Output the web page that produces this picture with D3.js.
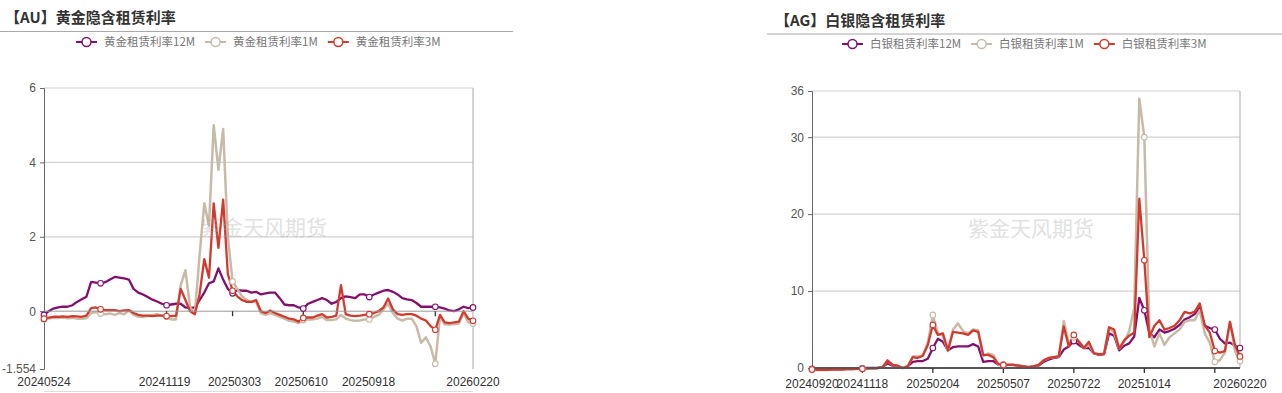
<!DOCTYPE html>
<html><head><meta charset="utf-8">
<script src="https://cdn.jsdelivr.net/npm/d3@7"></script>
<style>
body{margin:0;background:#fff;}
svg{display:block;font-family:"Noto Sans CJK SC","Liberation Sans",sans-serif;}
</style>
</head><body>
<svg id="c" width="1282" height="393"></svg>
<script>
// ---------------- AU (gold) ----------------
const auDates = [
"20240524","20240531","20240607","20240614","20240621","20240628","20240705","20240712","20240719","20240726",
"20240802","20240809","20240816","20240823","20240830","20240906","20240913","20240920","20240927","20241004",
"20241011","20241018","20241025","20241101","20241108","20241115","20241122","20241129","20241206","20241213",
"20241220","20241227","20250103","20250110","20250117","20250124","20250131","20250207","20250214","20250221",
"20250228","20250307","20250314","20250321","20250328","20250404","20250411","20250418","20250425","20250502",
"20250509","20250516","20250523","20250530","20250606","20250613","20250620","20250627","20250704","20250711",
"20250718","20250725","20250801","20250808","20250815","20250822","20250829","20250905","20250912","20250919",
"20250926","20251003","20251010","20251017","20251024","20251031","20251107","20251114","20251121","20251128",
"20251205","20251212","20251219","20251226","20260102","20260109","20260116","20260123","20260130","20260206",
"20260213","20260220"];
const au12M = [
-0.1,0.0,0.07,0.1,0.12,0.12,0.16,0.25,0.32,0.39,
0.79,0.77,0.75,0.78,0.85,0.92,0.9,0.88,0.85,0.6,
0.5,0.45,0.38,0.31,0.26,0.2,0.16,0.18,0.2,0.2,
0.1,0.08,0.1,0.3,0.5,0.75,0.8,1.15,0.85,0.6,
0.48,0.57,0.55,0.55,0.5,0.52,0.45,0.48,0.5,0.5,
0.35,0.18,0.16,0.16,0.1,0.07,0.2,0.25,0.3,0.35,
0.3,0.2,0.25,0.35,0.4,0.38,0.35,0.45,0.45,0.38,
0.45,0.5,0.55,0.57,0.52,0.45,0.35,0.32,0.3,0.22,
0.12,0.12,0.12,0.12,0.1,0.07,0.02,0.0,0.05,0.12,
0.08,0.1];
const au1M = [
-0.22,-0.2,-0.18,-0.18,-0.17,-0.19,-0.18,-0.2,-0.2,-0.19,
-0.05,-0.02,-0.06,-0.08,-0.06,-0.1,-0.05,-0.08,0.02,-0.1,
-0.15,-0.15,-0.13,-0.1,-0.08,-0.12,-0.15,-0.22,-0.22,0.7,
1.1,0.1,-0.05,1.5,2.9,2.3,5.0,3.8,4.9,2.0,
0.8,0.6,0.4,0.3,0.25,0.25,-0.05,-0.1,-0.05,-0.1,
-0.15,-0.2,-0.26,-0.28,-0.32,-0.24,-0.22,-0.22,-0.2,-0.15,
-0.24,-0.24,-0.22,-0.1,-0.2,-0.24,-0.26,-0.25,-0.22,-0.22,
-0.15,-0.1,0.05,0.2,-0.05,-0.2,-0.25,-0.2,-0.2,-0.4,
-0.85,-0.7,-0.95,-1.41,-0.15,-0.35,-0.36,-0.35,-0.33,-0.05,
-0.3,-0.33];
const au3M = [
-0.2,-0.17,-0.15,-0.15,-0.14,-0.15,-0.13,-0.14,-0.15,-0.12,
0.08,0.1,0.05,0.03,0.03,0.03,0.0,0.02,0.03,-0.05,
-0.1,-0.12,-0.12,-0.13,-0.12,-0.12,-0.13,-0.13,-0.12,0.6,
0.3,0.0,-0.08,0.45,1.4,0.9,2.9,1.7,3.0,1.0,
0.55,0.4,0.3,0.25,0.25,0.3,0.0,-0.05,0.02,-0.05,
-0.1,-0.15,-0.2,-0.22,-0.28,-0.18,-0.17,-0.17,-0.12,-0.08,
-0.17,-0.15,-0.12,0.7,-0.08,-0.12,-0.13,-0.12,-0.1,-0.08,
-0.05,0.0,0.1,0.34,0.05,-0.08,-0.1,-0.08,-0.08,-0.12,
-0.2,-0.25,-0.4,-0.5,-0.1,-0.3,-0.32,-0.3,-0.28,0.0,
-0.2,-0.26];
const auTickLabels = ["20240524","20241119","20250303","20250610","20250918","20260220"];
const auTickOnly = ["20240813","20251226"];
const auYTicks = [-1.554, 0, 2, 4, 6];

// ---------------- AG (silver) ----------------
const agDates = [
"20240920","20240926","20241002","20241008","20241014","20241018","20241024","20241030","20241105","20241111","20241118",
"20241122","20241128","20241204","20241210","20241216","20241220","20241226","20241231","20250106","20250110","20250116","20250122","20250128","20250204",
"20250210","20250217","20250224","20250303","20250310","20250314","20250320","20250327","20250403","20250410","20250416","20250423","20250430","20250507",
"20250513","20250519","20250523","20250529","20250604","20250610","20250616","20250620","20250626","20250702","20250708","20250711","20250717","20250722",
"20250728","20250801","20250807","20250813","20250819","20250825","20250829","20250904","20250910","20250916","20250922","20250926","20251009","20251014",
"20251020","20251024","20251030","20251105","20251111","20251117","20251121","20251127","20251203","20251209","20251215","20251219","20251226","20260105",
"20260114","20260123","20260202","20260211","20260220"];
const ag12M = [
-0.1,-0.15,-0.15,-0.15,-0.12,-0.12,-0.1,-0.1,-0.08,-0.05,
-0.05,0.0,0.0,0.0,0.1,0.6,0.3,0.2,0.0,0.2,
0.8,0.9,0.9,1.2,2.6,3.8,3.4,2.3,2.7,2.8,
2.8,2.8,3.1,2.8,0.8,0.9,0.9,0.4,0.4,0.4,
0.4,0.3,0.2,0.1,0.2,0.3,0.8,1.1,1.3,1.4,
2.4,2.8,3.5,3.0,2.6,2.6,1.9,1.7,1.8,4.5,
4.2,2.3,2.9,3.2,4.1,9.1,7.5,4.5,4.0,5.0,
4.6,4.8,5.1,5.6,6.3,6.6,7.0,7.8,5.5,5.2,
5.0,3.8,3.2,3.3,2.9,2.6];
const ag1M = [
-0.2,-0.25,-0.25,-0.25,-0.2,-0.2,-0.2,-0.15,-0.15,-0.1,
-0.1,-0.05,-0.05,0.0,0.1,0.9,0.4,0.3,0.0,0.2,
1.5,1.5,1.6,3.3,6.9,4.5,4.2,2.2,5.0,5.8,
4.8,4.5,5.0,4.9,1.5,1.9,1.7,0.4,0.4,0.4,
0.4,0.3,0.2,0.1,0.2,0.4,1.0,1.3,1.4,1.5,
6.1,3.2,4.0,3.5,2.6,3.0,1.9,1.8,1.9,5.2,
4.6,2.5,3.4,4.8,7.8,35,30,5.0,2.8,4.5,
3.0,4.0,4.5,5.0,6.0,6.2,6.2,7.5,4.5,3.3,
0.8,1.0,2.0,6.0,2.2,0.9];
const ag3M = [
-0.2,-0.25,-0.25,-0.25,-0.2,-0.2,-0.2,-0.15,-0.15,-0.1,
-0.1,-0.05,-0.05,0.0,0.1,1.0,0.4,0.3,0.0,0.2,
1.4,1.3,1.6,3.0,5.6,4.3,4.5,2.3,4.7,4.6,
4.5,4.3,4.9,4.7,1.7,1.7,1.4,0.5,0.4,0.4,
0.4,0.3,0.2,0.1,0.2,0.4,1.0,1.3,1.4,1.5,
5.4,2.8,4.3,3.4,2.6,3.4,1.9,1.8,1.8,5.3,
5.0,2.5,3.6,4.2,4.6,22,14,4.0,5.5,6.2,
5.0,5.2,5.5,6.2,7.3,7.1,7.3,8.4,5.5,4.6,
2.2,2.0,2.2,6.0,3.0,1.5];
const agTickLabels = ["20240920","20241118","20250204","20250507","20250722","20251014","20260220"];
const agTickOnly = ["20260105"];
const agYTicks = [0, 10, 20, 30, 36];

const COLORS = ["#84106D", "#C9BAA7", "#D33A2E"];
const svg = d3.select("#c");
const parse = d3.timeParse("%Y%m%d");

function panel(cfg) {
  const g = svg.append("g");
  const {x, y, xPos} = cfg;
  const [x0, x1] = cfg.xr, [yb, yt] = y.range();

  g.append("text").attr("x", cfg.titleX).attr("y", cfg.titleY)
    .attr("font-size", 15).attr("font-weight", "bold").attr("fill", "#333").text(cfg.title);
  g.append("line").attr("x1", cfg.sep[0]).attr("x2", cfg.sep[1]).attr("y1", cfg.sepY).attr("y2", cfg.sepY)
    .attr("stroke", "#aaa").attr("stroke-width", 1);

  let lx = cfg.legendX;
  cfg.names.forEach((n, k) => {
    const it = g.append("g");
    it.append("line").attr("x1", lx).attr("x2", lx + 21).attr("y1", cfg.legendY).attr("y2", cfg.legendY)
      .attr("stroke", COLORS[k]).attr("stroke-width", 2);
    it.append("circle").attr("cx", lx + 10.5).attr("cy", cfg.legendY).attr("r", 4.5)
      .attr("fill", "#fff").attr("stroke", COLORS[k]).attr("stroke-width", 1.5);
    const t = it.append("text").attr("x", lx + 28).attr("y", cfg.legendY).attr("dy", "0.35em")
      .attr("font-size", 11.5).attr("fill", "#777").text(n);
    lx += 28 + t.node().getComputedTextLength() + 10;
  });

  cfg.yTicks.filter(v => v > 0).forEach(v => {
    g.append("line").attr("x1", x0).attr("x2", x1).attr("y1", y(v)).attr("y2", y(v))
      .attr("stroke", "#d2d2d2").attr("stroke-width", 1.2);
  });
  g.append("line").attr("x1", x1).attr("x2", x1).attr("y1", yt).attr("y2", yb)
    .attr("stroke", "#aaa").attr("stroke-width", 1);

  const ya = g.append("g").attr("transform", `translate(${x0},0)`)
    .call(d3.axisLeft(y).tickValues(cfg.yTicks).tickSize(4).tickPadding(4)
      .tickFormat(v => String(v)));
  ya.select(".domain").attr("stroke", "#666");
  ya.selectAll(".tick line").attr("stroke", "#666");
  ya.selectAll("text").attr("font-size", 12).attr("fill", "#555")
    .attr("font-family", "'Liberation Sans',sans-serif");

  const line = d3.line().x((d, i) => xPos(i)).y(d => y(d));
  cfg.series.forEach((s, k) => {
    g.append("path").datum(s).attr("d", line).attr("fill", "none")
      .attr("stroke", COLORS[k]).attr("stroke-width", k === 1 ? 2.5 : 2.3)
      .attr("stroke-linejoin", "round");
  });

  const y0 = y(0);
  g.append("line").attr("x1", x0).attr("x2", x1).attr("y1", y0).attr("y2", y0)
    .attr("stroke", cfg.zeroColor).attr("stroke-width", cfg.zeroWidth);
  cfg.tickIdx.forEach(i => {
    g.append("line").attr("x1", xPos(i)).attr("x2", xPos(i)).attr("y1", y0).attr("y2", y0 + 5)
      .attr("stroke", "#333").attr("stroke-width", 1.3);
  });

  cfg.markerIdx.forEach(i => {
    cfg.series.forEach((s, k) => {
      g.append("circle").attr("cx", xPos(i)).attr("cy", y(s[i])).attr("r", 2.8)
        .attr("fill", "#fff").attr("stroke", COLORS[k]).attr("stroke-width", 1.1);
    });
  });

  cfg.labels.forEach(l => {
    g.append("text").attr("x", x(l.v)).attr("y", cfg.labelY).attr("text-anchor", "middle")
      .attr("font-size", 12).attr("fill", "#333")
      .attr("font-family", "'Liberation Sans',sans-serif").text(l.t);
  });

  g.append("text").attr("x", cfg.wmX).attr("y", cfg.wmY).attr("text-anchor", "middle")
    .attr("font-size", 21).attr("fill", "#aaa").attr("opacity", 0.35).text("紫金天风期货");

  if (cfg.bottomLine) {
    g.append("line").attr("x1", x0).attr("x2", x1).attr("y1", 391.5).attr("y2", 391.5)
      .attr("stroke", "#ddd").attr("stroke-width", 1);
  }
}

{
  const d = auDates.map(parse);
  const x = d3.scaleTime().domain([d[0], d[d.length - 1]]).range([44, 473]);
  const y = d3.scaleLinear().domain([-1.554, 6]).range([369, 88]);
  const bis = d3.bisector(v => v).center;
  const near = s => bis(d, parse(s));
  const tickIdx = auTickLabels.concat(auTickOnly).map(near);
  panel({
    title: "【AU】黄金隐含租赁利率", titleX: 5, titleY: 23, sep: [0, 513], sepY: 31.5,
    legendX: 76, legendY: 42,
    names: ["黄金租赁利率12M", "黄金租赁利率1M", "黄金租赁利率3M"],
    x: (v) => x(v), xr: [44, 473], y, xPos: i => x(d[i]),
    yTicks: auYTicks, series: [au12M, au1M, au3M],
    zeroColor: "#999", zeroWidth: 1,
    tickIdx: tickIdx.filter(i => i > 0 && i < d.length - 1),
    markerIdx: tickIdx,
    labels: auTickLabels.map(t => ({v: parse(t), t})), labelY: 386,
    wmX: 264, wmY: 235, bottomLine: true
  });
}

{
  const x = d3.scalePoint().domain(agDates).range([812, 1240]);
  const y = d3.scaleLinear().domain([0, 36]).range([368, 91]);
  const tickIdx = agTickLabels.concat(agTickOnly).map(s => agDates.indexOf(s));
  panel({
    title: "【AG】白银隐含租赁利率", titleX: 775, titleY: 26, sep: [767, 1282], sepY: 34,
    legendX: 842, legendY: 44,
    names: ["白银租赁利率12M", "白银租赁利率1M", "白银租赁利率3M"],
    x: (v) => x(v), xr: [812, 1240], y, xPos: i => x(agDates[i]),
    yTicks: agYTicks, series: [ag12M, ag1M, ag3M],
    zeroColor: "#555", zeroWidth: 2,
    tickIdx: tickIdx.filter(i => i > 0 && i < agDates.length - 1),
    markerIdx: tickIdx,
    labels: agTickLabels.map(t => ({v: t, t})), labelY: 388,
    wmX: 1031, wmY: 236, bottomLine: false
  });
}
</script>
</body></html>
